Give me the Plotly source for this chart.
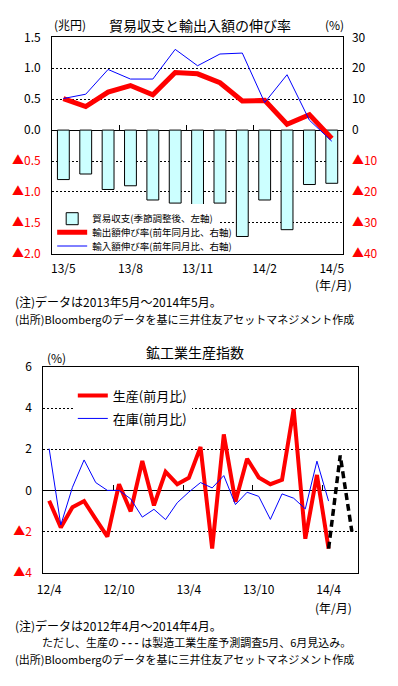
import plotly.graph_objects as go

W, H = 398, 686
FONT = "Noto Sans CJK JP, Noto Sans, sans-serif"
RED = "#FF0000"

# ---------------- data: top chart ----------------
months_top = ["13/5", "13/6", "13/7", "13/8", "13/9", "13/10", "13/11",
              "13/12", "14/1", "14/2", "14/3", "14/4", "14/5"]
trade_balance = [-0.80, -0.71, -0.96, -0.90, -1.13, -1.18, -1.35,
                 -1.18, -1.72, -1.13, -1.61, -0.88, -0.86]          # 兆円
export_growth = [10.2, 7.6, 12.3, 14.4, 11.4, 18.6, 18.2,
                 15.3, 9.4, 9.6, 1.9, 5.0, -2.7]                     # %
import_growth = [10.2, 11.6, 19.6, 16.5, 16.5, 26.1, 20.8,
                 24.6, 24.9, 8.9, 17.9, 3.2, -3.6]                   # %
left_ticks = [-2.0, -1.5, -1.0, -0.5, 0.0, 0.5, 1.0, 1.5]
right_ticks = [-40, -30, -20, -10, 0, 10, 20, 30]

# ---------------- data: bottom chart ----------------
months_bot = ["12/4", "12/5", "12/6", "12/7", "12/8", "12/9", "12/10",
              "12/11", "12/12", "13/1", "13/2", "13/3", "13/4", "13/5",
              "13/6", "13/7", "13/8", "13/9", "13/10", "13/11", "13/12",
              "14/1", "14/2", "14/3", "14/4", "14/5", "14/6"]
production = [-0.50, -1.80, -0.82, -0.52, -1.40, -2.25, 0.30, -1.02, 1.43,
              -0.73, 0.90, 0.30, 0.61, 2.11, -2.83, 2.72, -0.55, 1.54,
              0.63, 0.30, 0.51, 3.95, -2.35, 0.75, -2.83]
production_forecast = [1.70, -2.00]   # 14/5, 14/6 見込み
inventory = [2.03, -1.68, 0.15, 1.48, 0.38, 0.00, 0.00, -0.41, -1.30,
             -0.92, -1.42, -0.60, -0.08, 0.38, 0.12, 0.72, -0.69, -0.09,
             -0.29, -1.41, -0.17, -0.38, -0.90, 1.42, -0.52]
bot_ticks = [-4, -2, 0, 2, 4, 6]


def px_x(v):
    return v / W


def px_y(v):
    return 1 - v / H


def tick_label(v, fmt):
    if v < 0:
        return f"<span style='color:{RED}'>▲{fmt(abs(v))}</span>"
    return fmt(v)


# plot-area geometry (pixels)
T_L, T_R, T_T, T_B = 47, 343, 28, 250
B_L, B_R, B_T, B_B = 38, 358, 366, 577

top_x = list(range(len(months_top)))
bot_x = list(range(len(months_bot)))
n_act = len(production)

fig = go.Figure()

fig.add_trace(go.Bar(
    x=top_x, y=trade_balance, xaxis="x", yaxis="y",
    name="貿易収支(季節調整後、左軸)", width=0.53,
    marker=dict(color="#CCFFFF", line=dict(color="black", width=1)),
    legend="legend"))
fig.add_trace(go.Scatter(
    x=top_x, y=export_growth, xaxis="x", yaxis="y2", mode="lines",
    name="輸出額伸び率(前年同月比、右軸)",
    line=dict(color=RED, width=5), legend="legend3"))
fig.add_trace(go.Scatter(
    x=top_x, y=import_growth, xaxis="x", yaxis="y2", mode="lines",
    name="輸入額伸び率(前年同月比、右軸)",
    line=dict(color="#0000FF", width=1), legend="legend4"))
# carrier for zero-line tick marks (top)
fig.add_trace(go.Scatter(x=[None], y=[None], xaxis="x3", yaxis="y",
                         showlegend=False, hoverinfo="skip"))

fig.add_trace(go.Scatter(
    x=bot_x[:n_act], y=production, xaxis="x2", yaxis="y3", mode="lines",
    name="生産(前月比)", line=dict(color=RED, width=4), legend="legend2",
    legendgroup="prod"))
fig.add_trace(go.Scatter(
    x=bot_x[:n_act], y=inventory, xaxis="x2", yaxis="y3", mode="lines",
    name="在庫(前月比)", line=dict(color="#0000FF", width=1), legend="legend2",
    legendgroup="inv"))
fig.add_trace(go.Scatter(
    x=bot_x[n_act - 1:], y=[production[-1]] + production_forecast,
    xaxis="x2", yaxis="y3", mode="lines", showlegend=False,
    line=dict(color="black", width=3.5, dash="7px,4px")))
fig.add_trace(go.Scatter(x=[None], y=[None], xaxis="x4", yaxis="y3",
                         showlegend=False, hoverinfo="skip"))

axis_common = dict(showline=True, mirror=True, linecolor="black", linewidth=1,
                   ticks="", tickfont=dict(size=12, color="black", family=FONT))

top_dom_y = [px_y(T_B), px_y(T_T)]
bot_dom_y = [px_y(B_B), px_y(B_T)]
top_zero_pos = top_dom_y[0] + (0 - left_ticks[0]) / (left_ticks[-1] - left_ticks[0]) * (top_dom_y[1] - top_dom_y[0])
bot_zero_pos = bot_dom_y[0] + (0 - bot_ticks[0]) / (bot_ticks[-1] - bot_ticks[0]) * (bot_dom_y[1] - bot_dom_y[0])

small_legend = dict(xanchor="left", yanchor="middle", bgcolor="rgba(0,0,0,0)",
                    borderwidth=0, font=dict(size=9.5, family=FONT),
                    itemwidth=30, tracegroupgap=0)

fig.update_layout(
    width=W, height=H, margin=dict(l=0, r=0, t=0, b=0),
    paper_bgcolor="white", plot_bgcolor="white",
    font=dict(family=FONT, color="black", size=12),
    xaxis=dict(axis_common, domain=[px_x(T_L), px_x(T_R)], anchor="y",
               range=[-0.5, len(months_top) - 0.5],
               tickvals=top_x[::3], ticktext=months_top[::3],
               showgrid=False, zeroline=False, ticklabelstandoff=4),
    yaxis=dict(axis_common, domain=top_dom_y, anchor="x",
               range=[left_ticks[0], left_ticks[-1]], tickvals=left_ticks,
               ticktext=[tick_label(v, lambda a: f"{a:.1f}") for v in left_ticks],
               showgrid=True, gridcolor="black", gridwidth=1, griddash="2px,2px",
               zeroline=True, zerolinecolor="black", zerolinewidth=1,
               ticklabelstandoff=8),
    yaxis2=dict(overlaying="y", side="right", anchor="x",
                range=[right_ticks[0], right_ticks[-1]], tickvals=right_ticks,
                ticktext=[tick_label(v, lambda a: f"{a:d}") for v in right_ticks],
                showgrid=False, zeroline=False, showline=False, ticks="",
                tickfont=dict(size=12, color="black", family=FONT),
                ticklabelstandoff=8),
    xaxis3=dict(overlaying="x", anchor="free", position=top_zero_pos,
                range=[-0.5, len(months_top) - 0.5],
                tickvals=[i - 0.5 for i in range(3, len(months_top) - 1, 3)],
                ticks="inside", ticklen=5, tickcolor="black", tickwidth=1,
                showticklabels=False, showline=False, showgrid=False, zeroline=False),
    xaxis2=dict(axis_common, domain=[px_x(B_L), px_x(B_R)], anchor="y3",
                range=[-0.5, len(months_bot) - 0.5],
                tickvals=bot_x[:n_act:6], ticktext=months_bot[:n_act:6],
                showgrid=False, zeroline=False, ticklabelstandoff=6),
    yaxis3=dict(axis_common, domain=bot_dom_y, anchor="x2",
                range=[bot_ticks[0], bot_ticks[-1]], tickvals=bot_ticks,
                ticktext=[tick_label(v, lambda a: f"{a:d}") for v in bot_ticks],
                showgrid=True, gridcolor="black", gridwidth=1, griddash="2px,2px",
                zeroline=True, zerolinecolor="black", zerolinewidth=1,
                ticklabelstandoff=8),
    xaxis4=dict(overlaying="x2", anchor="free", position=bot_zero_pos,
                range=[-0.5, len(months_bot) - 0.5],
                tickvals=[i - 0.5 for i in range(6, n_act, 6)],
                ticks="inside", ticklen=5, tickcolor="black", tickwidth=1,
                showticklabels=False, showline=False, showgrid=False, zeroline=False),
    legend=dict(small_legend, x=px_x(47), y=px_y(214), bgcolor="white"),
    legend3=dict(small_legend, x=px_x(47), y=px_y(228)),
    legend4=dict(small_legend, x=px_x(47), y=px_y(242)),
    legend2=dict(x=px_x(68), y=px_y(380), xanchor="left", yanchor="top",
                 bgcolor="white", borderwidth=0, font=dict(size=13, family=FONT),
                 itemwidth=30, tracegroupgap=3),
    showlegend=True,
)

notes = [
    ("貿易収支と輸出入額の伸び率", 197, 15, 14, "center"),
    ("(兆円)", 47, 15, 12, "left"),
    ("(%)", 323, 15, 12, "left"),
    ("(年/月)", 313, 281, 12, "left"),
    ("(注)データは2013年5月～2014年5月。", 7, 299, 12, "left"),
    ("(出所)Bloombergのデータを基に三井住友アセットマネジメント作成", 7, 317, 11, "left"),
    ("鉱工業生産指数", 192, 351, 14, "center"),
    ("(%)", 40, 356, 12, "left"),
    ("(年/月)", 313, 613, 12, "left"),
    ("(注)データは2012年4月～2014年4月。", 7, 631, 12, "left"),
    ("ただし、生産の <b>- - -</b> は製造工業生産予測調査5月、6月見込み。", 35, 648, 11, "left"),
    ("(出所)Bloombergのデータを基に三井住友アセットマネジメント作成", 7, 665, 11, "left"),
]
for text, x, y, size, anchor in notes:
    fig.add_annotation(text=text, x=px_x(x), y=px_y(y), xref="paper", yref="paper",
                       xanchor=anchor, yanchor="middle", showarrow=False,
                       font=dict(size=size, family=FONT, color="black"))

fig.write_html("out.html", config={"displayModeBar": False},
               post_script="document.body.style.margin='0';document.body.style.padding='0';")
